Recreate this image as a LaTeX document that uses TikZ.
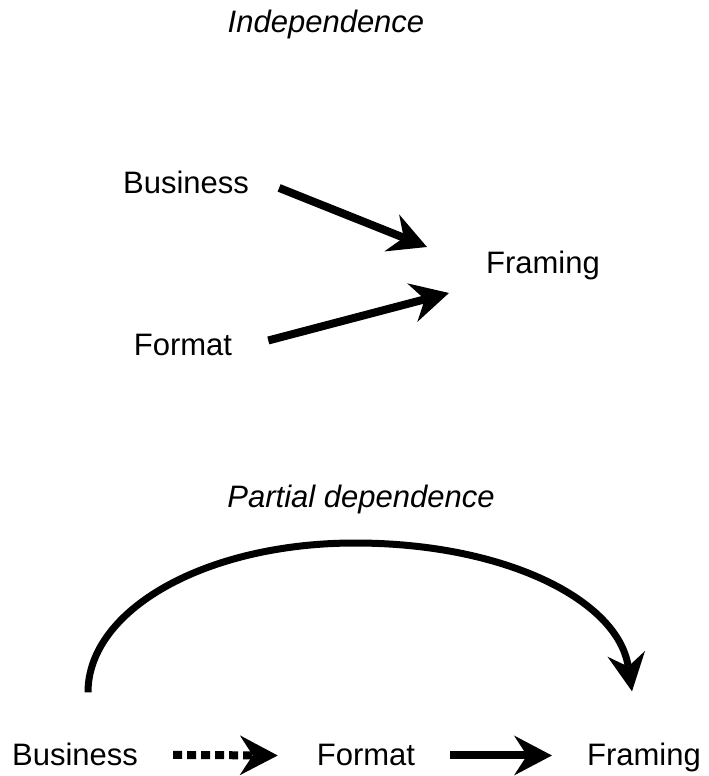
\documentclass[tikz,border=0pt]{standalone}
\usepackage{fontspec}
\setmainfont{Liberation Sans}
\usetikzlibrary{arrows.meta,calc}
\tikzset{
  lbl/.style={inner sep=0pt, anchor=base, font=\fontsize{31}{37}\selectfont},
  ttl/.style={lbl, font=\fontsize{31}{37}\selectfont\itshape},
  arr/.style={line width=8pt, -{Stealth[length=38pt,width=40pt,inset=13pt,line width=0pt]}},
  dotarr/.style={arr, dash pattern=on 9pt off 5pt},
  curvearr/.style={line width=7pt, -{Stealth[length=38pt,width=38pt,inset=13pt,line width=0pt]}}
}
\begin{document}
\begin{tikzpicture}[x=1pt,y=-1pt]
\useasboundingbox (0,0) rectangle (709,776);
% top diagram
\node[ttl] (t1) at (326,33) {Independence};
\node[lbl] (b1) at (186,193) {Business};
\node[lbl] (f1) at (183,355) {Format};
\node[lbl] (r1) at (543,273) {Framing};
\draw[arr] ($(b1.east)+(30,6)$) -- ($(r1.west)+(-59,-18)$);
\draw[arr] ($(f1.east)+(36,-4)$) -- ($(r1.west)+(-37,28)$);
% bottom diagram
\node[ttl] (t2) at (361,507) {Partial dependence};
\node[lbl] (b2) at (75,765) {Business};
\node[lbl] (f2) at (366,765) {Format};
\node[lbl] (r2) at (644,765) {Framing};
\coordinate (cs) at ($(b2.north)+(13,-50)$);
\coordinate (ce) at ($(r2.north)+(-12,-51)$);
\draw[dotarr] ($(b2.east)+(35,1)$) -- ($(f2.west)+(-39,1)$);
\draw[arr] ($(f2.east)+(35,1)$) -- ($(f2.east -| r2.west)+(-35,1)$);
\draw[curvearr] (cs) .. controls (88,610) and (205,543) .. (355,543)
  .. controls (505,543) and (618,600) .. (ce);
\end{tikzpicture}
\end{document}
